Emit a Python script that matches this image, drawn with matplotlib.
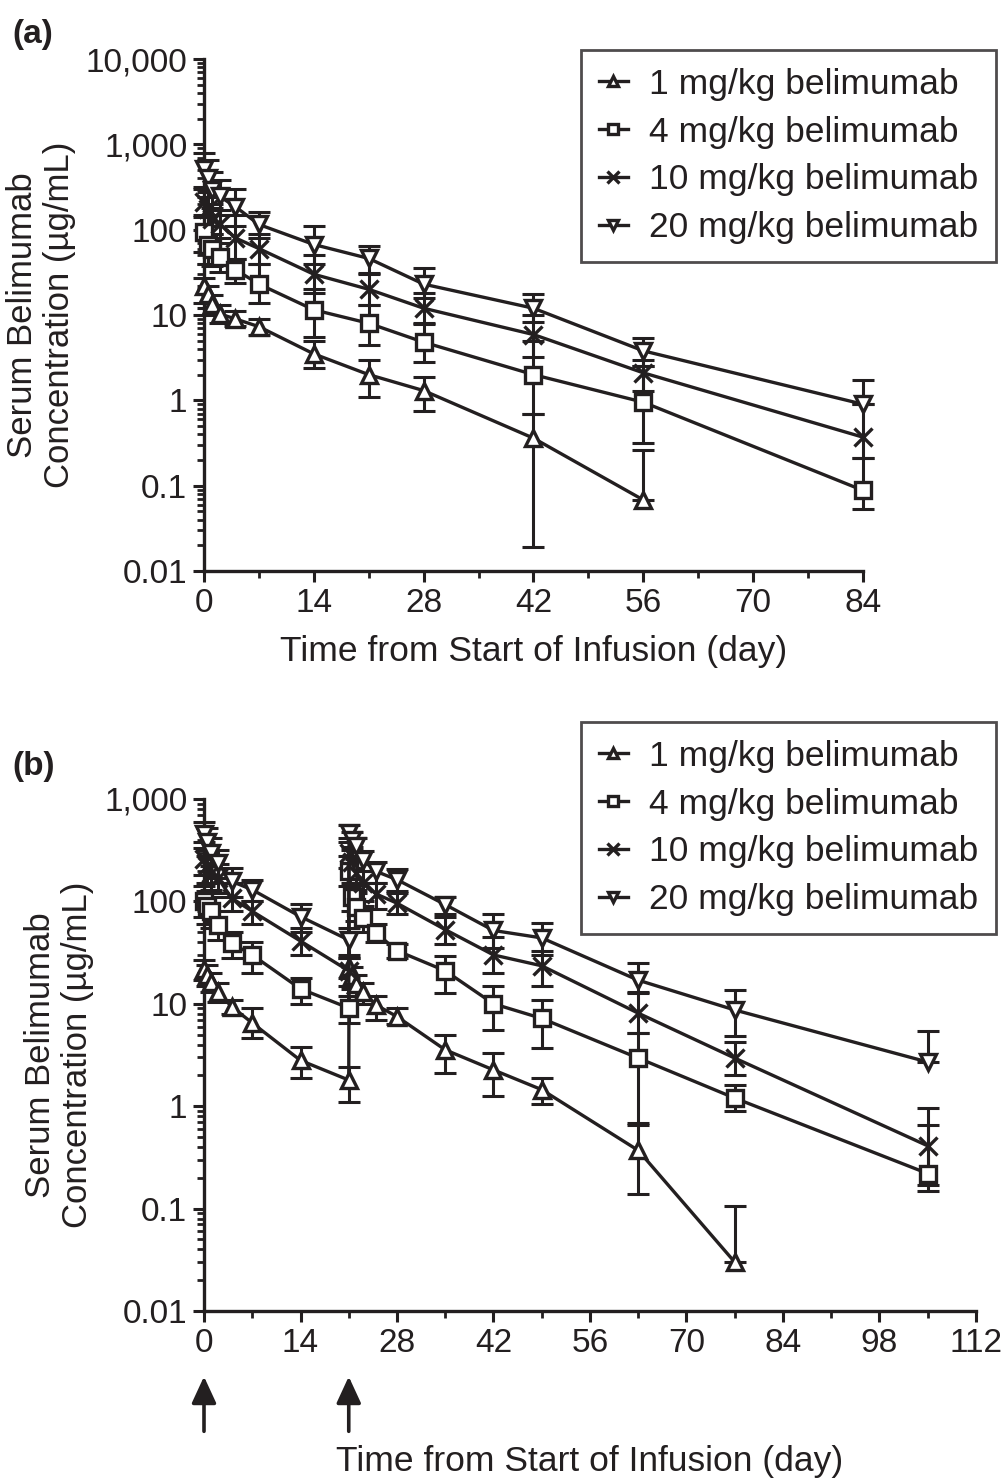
import numpy as np
import matplotlib
matplotlib.use('Agg')
import matplotlib.pyplot as plt
from matplotlib.ticker import FixedLocator, MultipleLocator, LogLocator, NullFormatter

plt.rcParams['font.family'] = ['Liberation Sans', 'DejaVu Sans']
INK = '#231f20'

labels = ['1 mg/kg belimumab', '4 mg/kg belimumab', '10 mg/kg belimumab', '20 mg/kg belimumab']
markers = ['^', 's', 'x', 'v']

# ---------------- panel (a): single dose ----------------
t_a = [0.04, 0.5, 1, 2, 4, 7, 14, 21, 28, 42, 56, 84]
a_1 = [22, 17.5, 13.5, 10.3, 9, 7.3, 3.5, 2.0, 1.3, 0.36, 0.068, np.nan]
a_1_hi = [27, 22, 17, 13, 11, 9, 5, 3, 1.9, 0.7, 0.26, np.nan]
a_1_lo = [14, 12, 10, 8, 7.5, 5.8, 2.4, 1.1, 0.75, 0.019, np.nan, np.nan]
a_4 = [95, 67, 60, 48, 34, 23, 11.5, 8, 4.8, 2.0, 0.95, 0.088]
a_4_hi = [150, 110, 90, 70, 45, 40, 20, 13, 8, 5, 2.5, 0.21]
a_4_lo = [55, 40, 38, 32, 24, 14, 5.5, 4.5, 2.8, 0.7, 0.32, 0.054]
a_10 = [213, 176, 135, 118, 80, 60, 30, 20, 12, 5.9, 2.1, 0.37]
a_10_hi = [320, 280, 200, 170, 150, 90, 50, 30, 18, 10, 3, 0.9]
a_10_lo = [140, 110, 90, 80, 45, 40, 18, 13, 7.8, 3.2, 1.3, 0.21]
a_20 = [510, 400, 290, 245, 186, 115, 67, 46, 23, 12, 3.8, 0.9]
a_20_hi = [800, 650, 480, 380, 300, 160, 110, 65, 36, 17.5, 5.4, 1.75]
a_20_lo = [300, 240, 180, 150, 110, 80, 40, 31, 16, 8.3, 2.5, np.nan]

# ---------------- panel (b): two doses (day 0 and day 21) ----------------
t_b = [0.04, 0.5, 1, 2, 4, 7, 14, 21, 21.04, 21.5, 22, 23, 25, 28, 35, 42, 49, 63, 77, 105]
b_1 = [22, 19, 16.5, 13, 9.4, 6.5, 2.8, 1.8, 23, 18.5, 15.5, 13, 9.7, 7.5, 3.55, 2.26, 1.45, 0.37, 0.03, np.nan]
b_1_hi = [27, 24, 20, 16, 11, 9, 3.8, 2.4, 28, 23, 19, 16, 12, 9, 5.0, 3.3, 1.87, 0.68, 0.105, np.nan]
b_1_lo = [17, 15, 13, 10.5, 8, 4.6, 1.9, 1.1, 18, 14, 12, 10, 7, 6.3, 2.1, 1.25, 1.05, 0.14, np.nan, np.nan]
b_4 = [100, 90, 80, 59, 39, 30, 14, 9.1, 200, 110, 89, 69, 49, 33, 21, 10, 7.2, 2.95, 1.2, 0.22]
b_4_hi = [140, 125, 110, 80, 50, 40, 18, 12, 280, 150, 120, 90, 60, 38, 29, 14.8, 10.8, 5.2, 1.6, 0.66]
b_4_lo = [70, 60, 55, 42, 28, 20, 10, 6.5, 140, 80, 65, 50, 40, 28, 12.7, 5.6, 3.7, 0.66, 0.9, 0.15]
b_10 = [260, 220, 190, 170, 108, 80, 41, 21, 300, 240, 190, 150, 118, 96, 53, 30, 23.5, 8.1, 2.95, 0.41]
b_10_hi = [380, 320, 260, 230, 150, 100, 55, 28, 420, 340, 260, 200, 150, 120, 70, 45, 33, 13, 4.2, 0.96]
b_10_lo = [180, 150, 130, 120, 80, 60, 30, 15, 210, 170, 130, 100, 85, 75, 38, 20, 15, 5.2, 2.0, 0.17]
b_20 = [460, 380, 300, 237, 157, 130, 71, 42, 470, 400, 350, 255, 196, 163, 93, 52, 44, 17, 8.7, 2.7]
b_20_hi = [600, 520, 420, 320, 210, 160, 95, 55, 560, 480, 420, 310, 240, 205, 110, 75, 62, 25, 13.7, 5.4]
b_20_lo = [330, 280, 220, 170, 110, 100, 50, 30, 380, 320, 280, 200, 150, 125, 75, 35, 30, 12.7, 4.8, np.nan]

dose_days = [0, 21]

a_series = [(a_1, a_1_lo, a_1_hi), (a_4, a_4_lo, a_4_hi), (a_10, a_10_lo, a_10_hi), (a_20, a_20_lo, a_20_hi)]
b_series = [(b_1, b_1_lo, b_1_hi), (b_4, b_4_lo, b_4_hi), (b_10, b_10_lo, b_10_hi), (b_20, b_20_lo, b_20_hi)]

a_yticks = [0.01, 0.1, 1, 10, 100, 1000, 10000]
a_yticklabels = ['0.01', '0.1', '1', '10', '100', '1,000', '10,000']
b_yticks = [0.01, 0.1, 1, 10, 100, 1000]
b_yticklabels = ['0.01', '0.1', '1', '10', '100', '1,000']
a_xticks = [0, 14, 28, 42, 56, 70, 84]
b_xticks = [0, 14, 28, 42, 56, 70, 84, 98, 112]

W, H = 1004, 1483
fig = plt.figure(figsize=(W / 100, H / 100), dpi=100)

def px_axes(left, right, top, bottom):
    return fig.add_axes([left / W, 1 - bottom / H, (right - left) / W, (bottom - top) / H])

ax_a = px_axes(204, 863, 59, 571)
ax_b = px_axes(204, 976, 799, 1311)

XTICK_FS = 24
YTICK_FS = 24
LABEL_FS = 25.5
YLABEL_FS = 25
LEG_FS = 25.5

def draw(ax, t, series, xticks, yticks, yticklabels):
    t = np.asarray(t, float)
    handles = []
    for (y, lo, hi), m, lab in zip(series, markers, labels):
        y = np.asarray(y, float)
        lo = np.asarray(lo, float)
        hi = np.asarray(hi, float)
        lo_err = np.nan_to_num(y - lo, nan=0.0)
        hi_err = np.nan_to_num(hi - y, nan=0.0)
        ok = ~np.isnan(y)
        ax.errorbar(t[ok], y[ok], yerr=[lo_err[ok], hi_err[ok]], fmt='none', ecolor=INK,
                    elinewidth=2.2, capsize=8, capthick=2.2, zorder=2, clip_on=False)
        h, = ax.plot(t[ok], y[ok], '-', color=INK, lw=2.4, marker=m, ms=12 if m != 'x' else 13,
                     mfc='white', mec=INK, mew=2.4, zorder=3, clip_on=False, label=lab)
        handles.append(h)
    ax.set_yscale('log')
    ax.set_ylim(yticks[0], yticks[-1])
    ax.set_xlim(xticks[0], xticks[-1])
    ax.yaxis.set_major_locator(FixedLocator(yticks))
    ax.set_yticklabels(yticklabels)
    ax.yaxis.set_minor_locator(LogLocator(base=10, subs=np.arange(2, 10)))
    ax.yaxis.set_minor_formatter(NullFormatter())
    ax.xaxis.set_major_locator(FixedLocator(xticks))
    ax.set_xticklabels([str(v) for v in xticks])
    ax.xaxis.set_minor_locator(MultipleLocator(7))
    for s in ['top', 'right']:
        ax.spines[s].set_visible(False)
    for s in ['left', 'bottom']:
        ax.spines[s].set_linewidth(2.4)
        ax.spines[s].set_color(INK)
    ax.tick_params(which='major', length=8, width=2.2, color=INK, labelcolor=INK, pad=4)
    ax.tick_params(axis='x', which='major', labelsize=XTICK_FS)
    ax.tick_params(axis='y', which='major', labelsize=YTICK_FS)
    ax.tick_params(which='minor', length=5, width=2.0, color=INK)
    ax.set_ylabel('Serum Belimumab\nConcentration (µg/mL)', fontsize=YLABEL_FS, color=INK,
                  linespacing=1.15, labelpad=7)
    return handles

h_a = draw(ax_a, t_a, a_series, a_xticks, a_yticks, a_yticklabels)
h_b = draw(ax_b, t_b, b_series, b_xticks, b_yticks, b_yticklabels)

ax_a.set_xlabel('Time from Start of Infusion (day)', fontsize=LABEL_FS, color=INK, labelpad=12)
ax_b.set_xlabel('Time from Start of Infusion (day)', fontsize=LABEL_FS, color=INK, labelpad=62)

for ax, handles, top in [(ax_a, h_a, 50), (ax_b, h_b, 722)]:
    leg = ax.legend(handles=handles, loc='upper right', bbox_to_anchor=(996 / W, 1 - top / H),
                    bbox_transform=fig.transFigure, fontsize=LEG_FS, frameon=True, fancybox=False,
                    edgecolor=INK, handlelength=0.82, handletextpad=0.6, markerscale=0.65,
                    labelspacing=0.42, borderpad=0.5, borderaxespad=0)
    leg.get_frame().set_linewidth(2.0)
    for txt in leg.get_texts():
        txt.set_color(INK)

for d in dose_days:
    ax_b.annotate('', xy=(d, -0.128), xycoords=ax_b.get_xaxis_transform(),
                  xytext=(d, -0.235), textcoords=ax_b.get_xaxis_transform(),
                  arrowprops=dict(arrowstyle='-|>,head_length=0.65,head_width=0.3', lw=2.6,
                                  color=INK, shrinkA=0, shrinkB=0, mutation_scale=25))

fig.text(12 / W, 1 - 34 / H, '(a)', fontsize=24, fontweight='bold', color=INK, va='center', ha='left')
fig.text(12 / W, 1 - 767 / H, '(b)', fontsize=24, fontweight='bold', color=INK, va='center', ha='left')

fig.savefig('out.png', dpi=100)
